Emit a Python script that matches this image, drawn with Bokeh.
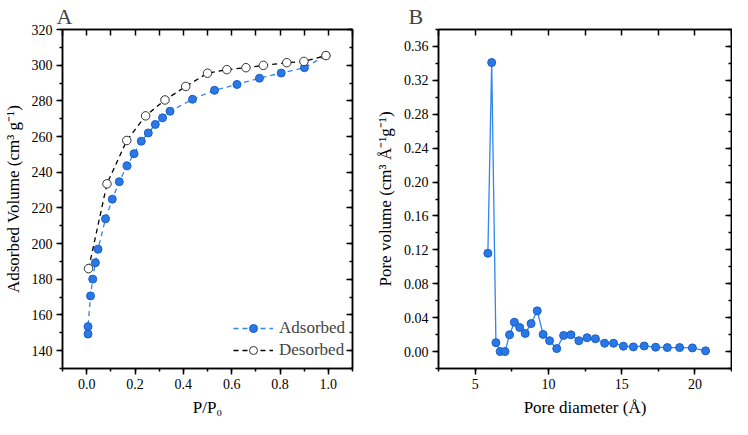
from bokeh.plotting import figure
from bokeh.models import (LinearAxis, Range1d, Legend, LegendItem, CustomJSTickFormatter,
                          SingleIntervalTicker, Title)
from bokeh.layouts import gridplot
from bokeh.embed import file_html
from bokeh.resources import INLINE

# ---- Panel A data: N2 isotherm ----
ads_p = [0.0056, 0.0056, 0.016, 0.025, 0.036, 0.047, 0.078, 0.106, 0.135, 0.167, 0.196,
         0.226, 0.255, 0.284, 0.314, 0.345, 0.438, 0.529, 0.622, 0.715, 0.805, 0.901, 0.99]
ads_v = [149.3, 153.5, 170.7, 180.1, 189.3, 196.9, 213.9, 224.9, 234.7, 243.6, 250.4,
         257.4, 262.0, 266.8, 270.5, 274.2, 280.9, 285.9, 289.2, 292.7, 295.6, 298.6, 305.4]
des_p = [0.008, 0.084, 0.166, 0.244, 0.324, 0.41, 0.50, 0.58, 0.659, 0.731, 0.828, 0.899, 0.99]
des_v = [186.0, 233.5, 257.8, 271.6, 280.5, 288.1, 295.5, 297.5, 298.6, 299.9, 301.4, 302.1, 305.4]

# ---- Panel B data: pore size distribution ----
pore_d = [5.87, 6.13, 6.42, 6.71, 7.04, 7.35, 7.68, 8.04, 8.42, 8.82, 9.24, 9.64, 10.08,
          10.57, 11.04, 11.54, 12.08, 12.64, 13.21, 13.84, 14.45, 15.12, 15.8, 16.54,
          17.32, 18.12, 18.96, 19.83, 20.73]
pore_v = [0.116, 0.341, 0.0105, 0.0, 0.0, 0.0198, 0.0346, 0.0284, 0.0214, 0.033, 0.048,
          0.0202, 0.0128, 0.0035, 0.019, 0.0198, 0.0128, 0.0163, 0.0151, 0.0098, 0.0098,
          0.0063, 0.0055, 0.0066, 0.0051, 0.0047, 0.0047, 0.0043, 0.0008]

FONT = "Liberation Serif"
BLUE = "#2a78e6"
BLUE_EDGE = "#1a5fc8"
BLUE_LINE = "#3284ee"


def style_main_axis(ax, interval, nminor, digits):
    ax.ticker = SingleIntervalTicker(interval=interval, num_minor_ticks=nminor)
    ax.formatter = CustomJSTickFormatter(code="return tick.toFixed(%d)" % digits)
    ax.major_tick_out = 6
    ax.major_tick_in = 0
    ax.minor_tick_out = 3
    ax.minor_tick_in = 0
    ax.axis_line_color = "black"
    ax.major_tick_line_color = "black"
    ax.minor_tick_line_color = "black"
    ax.major_label_text_color = "black"
    ax.axis_label_text_color = "black"
    ax.axis_line_width = 1.5
    ax.major_tick_line_width = 1.5
    ax.minor_tick_line_width = 1.5
    ax.major_label_text_font = FONT
    ax.major_label_text_font_size = "14px"
    ax.axis_label_text_font = FONT
    ax.axis_label_text_font_size = "17px"
    ax.axis_label_text_font_style = "normal"
    ax.major_label_standoff = 4
    ax.axis_label_standoff = 6


def mirror_axis(p, side, interval, nminor, minor_len):
    ax = LinearAxis(ticker=SingleIntervalTicker(interval=interval, num_minor_ticks=nminor),
                    formatter=CustomJSTickFormatter(code="return ''"))
    ax.major_tick_in = 6
    ax.major_tick_out = 0
    ax.minor_tick_in = minor_len
    ax.minor_tick_out = 0
    ax.axis_line_width = 1.5
    ax.major_tick_line_width = 1.5
    ax.minor_tick_line_width = 1.5
    ax.major_label_standoff = 0
    p.add_layout(ax, side)


def base_fig(width, xr, yr, left, right):
    p = figure(width=width, height=419, output_backend="svg", toolbar_location=None,
               x_range=xr, y_range=yr,
               min_border_left=left, min_border_right=right, min_border_top=4,
               min_border_bottom=50)
    p.grid.visible = False
    p.background_fill_color = None
    p.border_fill_color = None
    p.outline_line_color = "black"
    p.outline_line_width = 1.5
    return p


# ---------- Panel A ----------
pA = base_fig(370, Range1d(-0.1, 1.1), Range1d(130, 320), 51, 18)
pA.xaxis.axis_label = "P/P₀"
pA.yaxis.axis_label = "Adsorbed Volume (cm³ g⁻¹)"
style_main_axis(pA.xaxis[0], 0.2, 2, 1)
style_main_axis(pA.yaxis[0], 20, 2, 0)
mirror_axis(pA, "above", 0.1, 0, 6)
mirror_axis(pA, "right", 20, 2, 3)

tA = Title(text="A", text_font=FONT, text_font_size="22px", text_font_style="normal",
           align="left", offset=-6, standoff=2)
pA.add_layout(tA, "above")

ads_line = pA.line(ads_p, ads_v, line_color=BLUE_LINE, line_width=1.3, line_dash="5 4")
ads_pts = pA.scatter(ads_p, ads_v, size=8, fill_color=BLUE, line_color=BLUE_EDGE, line_width=1)
des_line = pA.line(des_p, des_v, line_color="black", line_width=1.3, line_dash="5 4")
des_pts = pA.scatter(des_p, des_v, size=8.5, fill_color="white", line_color="#333333", line_width=1)

legA = Legend(items=[LegendItem(label="Adsorbed", renderers=[ads_line, ads_pts]),
                     LegendItem(label="Desorbed", renderers=[des_line, des_pts])],
              location=(167, 4), background_fill_alpha=0, border_line_alpha=0,
              label_text_font=FONT, label_text_font_size="17px", glyph_width=40,
              label_standoff=6, spacing=2, padding=4)
pA.add_layout(legA, "center")

# ---------- Panel B ----------
pB = base_fig(362, Range1d(2.5, 22.5), Range1d(-0.02, 0.38), 68, 1)
pB.xaxis.axis_label = "Pore diameter (Å)"
pB.yaxis.axis_label = "Pore volume (cm³ Å⁻¹g⁻¹)"
style_main_axis(pB.xaxis[0], 5, 2, 0)
style_main_axis(pB.yaxis[0], 0.04, 2, 2)
mirror_axis(pB, "above", 2.5, 0, 6)
mirror_axis(pB, "right", 0.04, 2, 3)

tB = Title(text="B", text_font=FONT, text_font_size="22px", text_font_style="normal",
           align="left", offset=-30, standoff=2)
pB.add_layout(tB, "above")

pB.line(pore_d, pore_v, line_color=BLUE_LINE, line_width=1.3)
pB.scatter(pore_d, pore_v, size=8, fill_color=BLUE, line_color=BLUE_EDGE, line_width=1)

layout = gridplot([[pA, pB]], toolbar_location=None)
open("out.html", "w").write(file_html(layout, INLINE))
